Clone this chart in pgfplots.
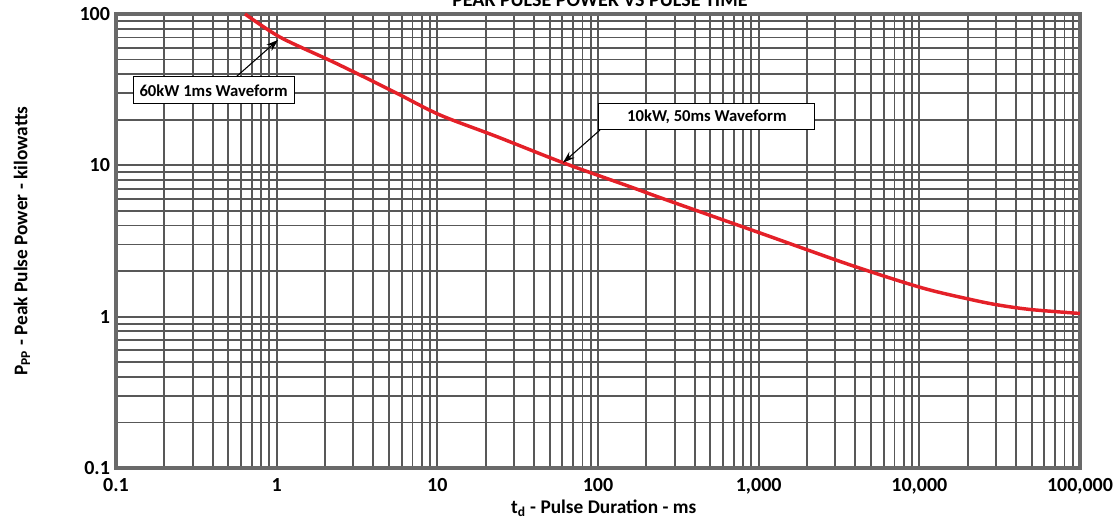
\documentclass[border=0pt]{standalone}
\usepackage{fontspec}
\setmainfont{Carlito}
\usepackage{pgfplots}
\pgfplotsset{compat=1.18}
\usetikzlibrary{arrows.meta}
\definecolor{gridgray}{RGB}{88,88,88}
\definecolor{framegray}{RGB}{105,105,105}
\definecolor{curvered}{RGB}{228,32,40}
\begin{document}
\begin{tikzpicture}
% 1 px of the reference = 0.75pt
\begin{axis}[at={(87pt,44.25pt)}, anchor=south west,
             scale only axis,
             width=723pt, height=340.5pt,
             xmode=log, ymode=log,
             xmin=0.1, xmax=100000,
             ymin=0.1, ymax=100,
             xtick={0.1,1,10,100,1000,10000,100000},
             xticklabels={0.1,1,10,100,{1,000},{10,000},{100,000}},
             ytick={0.1,1,10,100},
             yticklabels={0.1,1,10,100},
             grid=both,
             major grid style={gridgray, line width=1.4pt},
             minor grid style={gridgray, line width=1.4pt},
             axis line style={framegray, line width=2.8pt},
             major tick length=0pt, minor tick length=0pt,
             /pgf/number format/assume math mode=true,
             tick label style={font=\fontsize{15}{17}\selectfont\bfseries},
             xticklabel style={yshift=-4pt},
             yticklabel style={xshift=-1pt},
             xlabel={t\textsubscript{d} - Pulse Duration - ms},
             ylabel={P\textsubscript{PP} - Peak Pulse Power - kilowatts},
             label style={font=\fontsize{14.5}{16}\selectfont\bfseries},
             xlabel style={at={(axis description cs:0.506,-0.088)}, anchor=center},
             ylabel style={at={(axis description cs:-0.0975,0.5)}, anchor=center},
             title={PEAK PULSE POWER VS PULSE TIME},
             every axis title shift=0pt,
             title style={at={(axis description cs:0.502,1.017)}, anchor=base,
                          font=\fontsize{15}{17}\selectfont\bfseries},
             clip=false]
  \addplot[curvered, line width=2.6pt, smooth] coordinates{
    (0.635,100)
    (1.05,70.3)
    (2.15,49.3)
    (3.46,38.6)
    (5.58,30.0)
    (10.4,21.5)
    (23.4,15.5)
    (60.7,10.4)
    (158,7.23)
    (268,5.9)
    (1000,3.6)
    (3700,2.2)
    (10400,1.55)
    (21500,1.29)
    (31600,1.19)
    (50000,1.113)
    (100000,1.05)
  };
  % annotations
  \draw[-{Stealth[length=9pt,width=6pt]}, line width=0.8pt] (axis cs:0.559,38.4) -- (axis cs:1.02,67.4);
  \node[draw=black, line width=0.8pt, fill=white, minimum width=120.75pt, minimum height=20.25pt,
        inner sep=0pt, font=\fontsize{12.5}{14}\selectfont\bfseries] at (axis cs:0.405,31.3) {60kW 1ms Waveform};
  \draw[-{Stealth[length=9pt,width=6pt]}, line width=0.8pt] (axis cs:102.8,17.1) -- (axis cs:60.5,10.4);
  \node[draw=black, line width=0.8pt, fill=white, minimum width=162pt, minimum height=19.5pt,
        inner sep=0pt, font=\fontsize{12.5}{14}\selectfont\bfseries] at (axis cs:476,20.9) {10kW, 50ms Waveform};
\end{axis}
\pgfresetboundingbox
\path[use as bounding box] (0,0) rectangle (837.75pt,395.25pt);
\end{tikzpicture}
\end{document}
